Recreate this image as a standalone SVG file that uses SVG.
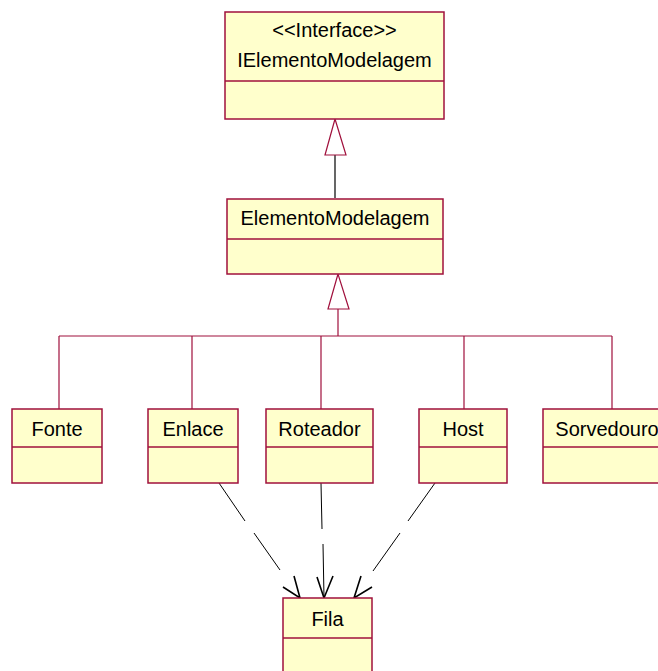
<svg xmlns="http://www.w3.org/2000/svg" width="658" height="671" viewBox="0 0 658 671">
  <style>
    .box { fill: #FFFFCC; stroke: #A0103C; stroke-width: 1.5; }
    .sep { stroke: #A0103C; stroke-width: 1.5; }
    .lbl { font-family: "Liberation Sans", Arial, sans-serif; font-size: 20px; fill: #000; text-anchor: middle; }
    .gen { fill: none; stroke: #A0103C; stroke-width: 1.2; }
    .genhead { fill: #FFFFFF; stroke: #A0103C; stroke-width: 1.2; }
    .dep { fill: none; stroke: #000; stroke-width: 1; }
    .dephead { fill: none; stroke: #000; stroke-width: 1.6; stroke-linejoin: miter; }
  </style>
  <rect width="658" height="671" fill="#FFFFFF"/>

  <g id="connectors">
    <!-- realization: ElementoModelagem -> IElementoModelagem -->
    <line x1="335" y1="155" x2="335" y2="198" stroke="#000" stroke-width="1.2"/>
    <polygon class="genhead" points="335,119 325,155 346,155"/>
    <!-- generalization tree -->
    <path class="gen" d="M338,309 V336 M59,336 H612 M59,336 V409 M192,336 V409 M321,336 V409 M464,336 V409 M612,336 V409"/>
    <polygon class="genhead" points="338,274 328,309 349,309"/>
    <!-- dependencies to Fila -->
    <path class="dep" d="M219,483 L245,521 M254,533 L280,570"/>
    <path class="dephead" d="M283,587 L300,598 L294,576"/>
    <path class="dep" d="M321,483 L322,529 M323,544 L324,598"/>
    <path class="dephead" d="M317,577 L324,598 L333,576"/>
    <path class="dep" d="M435,483 L408,521 M400,533 L373,571"/>
    <path class="dephead" d="M361,576 L354,598 L372,587"/>
  </g>

  <g id="IElementoModelagem">
    <rect class="box" x="225" y="12" width="219" height="107"/>
    <line class="sep" x1="225" y1="81" x2="444" y2="81"/>
    <text class="lbl" x="334.5" y="37">&lt;&lt;Interface&gt;&gt;</text>
    <text class="lbl" x="334.5" y="67">IElementoModelagem</text>
  </g>

  <g id="ElementoModelagem">
    <rect class="box" x="227" y="199" width="216" height="75"/>
    <line class="sep" x1="227" y1="239" x2="443" y2="239"/>
    <text class="lbl" x="335" y="225">ElementoModelagem</text>
  </g>

  <g id="Fonte">
    <rect class="box" x="12" y="409" width="90" height="74"/>
    <line class="sep" x1="12" y1="447" x2="102" y2="447"/>
    <text class="lbl" x="57" y="436">Fonte</text>
  </g>

  <g id="Enlace">
    <rect class="box" x="148" y="409" width="90" height="74"/>
    <line class="sep" x1="148" y1="447" x2="238" y2="447"/>
    <text class="lbl" x="193" y="436">Enlace</text>
  </g>

  <g id="Roteador">
    <rect class="box" x="266" y="409" width="107" height="74"/>
    <line class="sep" x1="266" y1="447" x2="373" y2="447"/>
    <text class="lbl" x="319.5" y="436">Roteador</text>
  </g>

  <g id="Host">
    <rect class="box" x="419" y="409" width="88" height="74"/>
    <line class="sep" x1="419" y1="447" x2="507" y2="447"/>
    <text class="lbl" x="463" y="436">Host</text>
  </g>

  <g id="Sorvedouro">
    <rect class="box" x="543" y="409" width="128" height="74"/>
    <line class="sep" x1="543" y1="447" x2="671" y2="447"/>
    <text class="lbl" x="607" y="436">Sorvedouro</text>
  </g>

  <g id="Fila">
    <rect class="box" x="283" y="598" width="89" height="80"/>
    <line class="sep" x1="283" y1="638" x2="372" y2="638"/>
    <text class="lbl" x="327.5" y="626">Fila</text>
  </g>
</svg>
